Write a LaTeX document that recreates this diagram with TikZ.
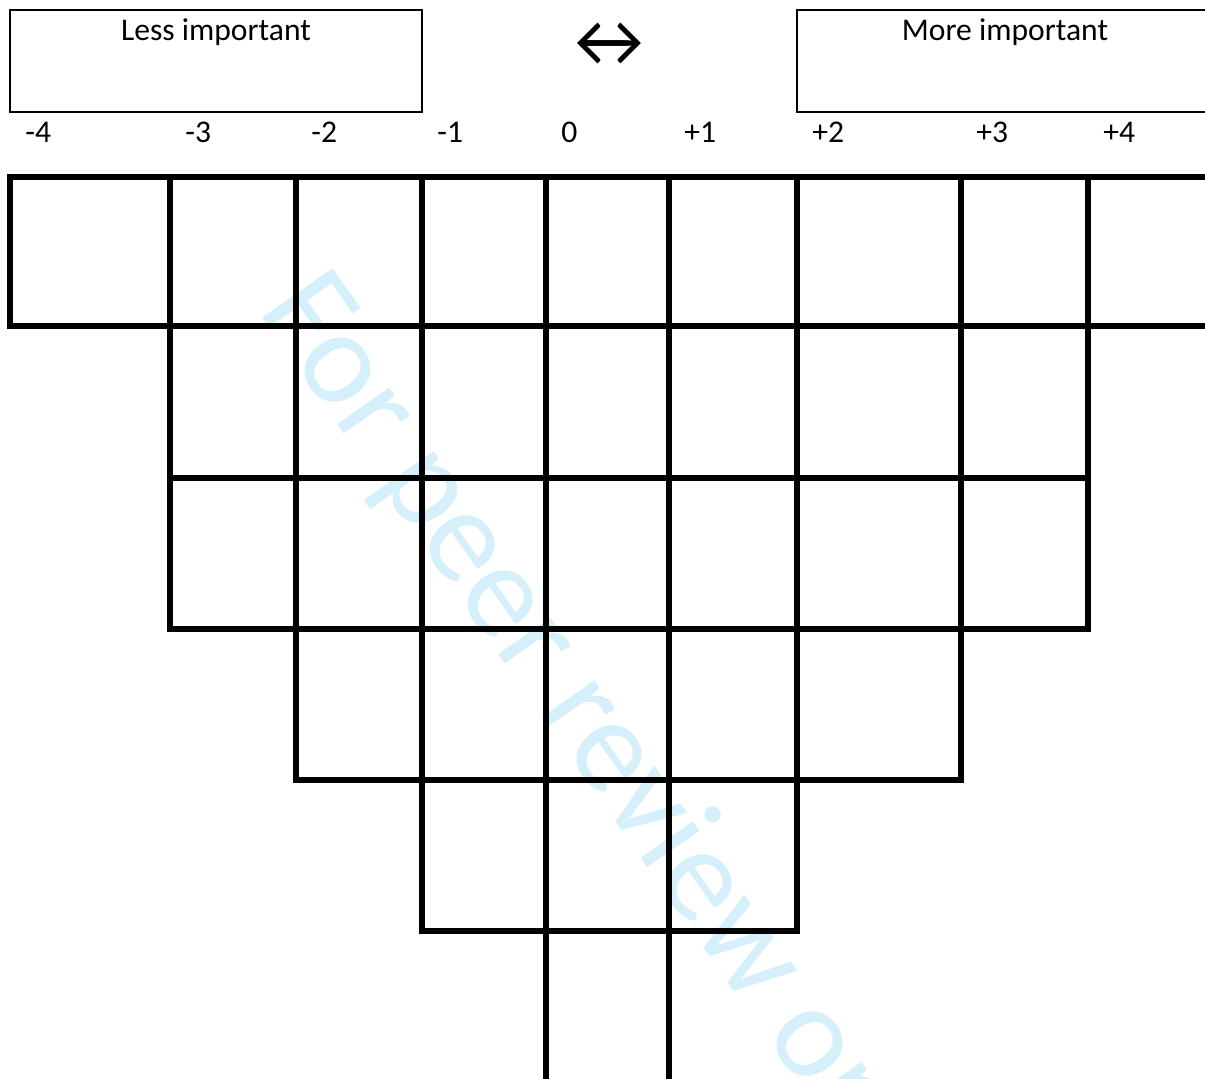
\documentclass[tikz,border=0pt]{standalone}
\usepackage{fontspec}
\setmainfont{Carlito}
\usepackage{tikz}
\usetikzlibrary{positioning}

\definecolor{wmblue}{RGB}{214,240,251}

\tikzset{
  gridline/.style={line width=2.6pt, line cap=rect},
  hdrbox/.style={line width=1pt},
  hdr/.style={font=\fontsize{15.8}{19}\selectfont, anchor=base},
  lbl/.style={font=\fontsize{15.8}{19}\selectfont, anchor=base west, inner sep=0pt},
  wmark/.style={font=\fontsize{67}{80}\selectfont, text=wmblue, anchor=base west, inner sep=0pt}
}

\begin{document}
\begin{tikzpicture}[x=0.5pt, y=-0.5pt]
  \clip (0,0) rectangle (1205,1079);

  % Watermark behind the grid
  \node[wmark, rotate=-55] (wm) at (257,310) {For peer review only};

  % Header boxes
  \draw[hdrbox] (10,10) rectangle (422,112);
  \node[hdr] (less) at (216,41) {Less important};
  \draw[hdrbox] (797,10) rectangle (1213,112);
  \node[hdr] (more) at (1005,41) {More important};
  \node[font=\fontsize{38}{38}\selectfont] (arr) at (609,45) {↔};

  % Column scores
  \foreach \x/\t [count=\i] in {10/-4,170/-3,296/-2,422/-1,546/0,669/+1,797/+2,961/+3,1088/+4}
    \node[lbl] (s\i) at (\x+15,143) {\t};

  % Horizontal lines of the grid
  \foreach \y/\xa/\xb in {177/10/1240, 326/10/1240, 478/170/1088,
                          629/170/1088, 780/296/961, 931/422/797}
    \draw[gridline] (\xa,\y) -- (\xb,\y);

  % Vertical lines of the grid
  \foreach \x/\yb in {10/326, 170/629, 296/780, 422/931, 546/1100,
                      669/1100, 797/931, 961/780, 1088/629}
    \draw[gridline] (\x,177) -- (\x,\yb);
\end{tikzpicture}
\end{document}
